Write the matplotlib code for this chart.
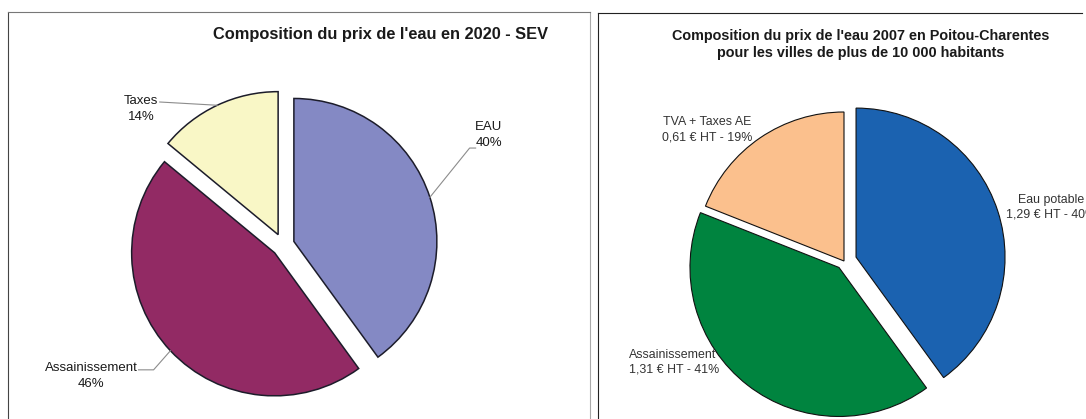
import numpy as np
import matplotlib.pyplot as plt

plt.rcParams['font.family'] = ['Liberation Sans', 'DejaVu Sans']

# left chart: SEV 2020
sev_labels = ['EAU', 'Assainissement', 'Taxes']
sev_pct = [40, 46, 14]
sev_colors = ['#8489c4', '#922a64', '#f9f7c6']

# right chart: Poitou-Charentes 2007
pc_labels = ['Eau potable', 'Assainissement', 'TVA + Taxes AE']
pc_euros = ['1,29', '1,31', '0,61']
pc_pct = [40, 41, 19]
pc_colors = ['#1b62b0', '#00843f', '#fbc08d']

W, H = 1086, 419
fig = plt.figure(figsize=(W / 100, H / 100), dpi=100)


def panel(x0, x1, y0, cx, cy, r):
    # axes in pixel box, data unit = pie radius, pie centre at (0, 0)
    ax = fig.add_axes([x0 / W, 0, (x1 - x0) / W, (H - y0) / H])
    lims = ((x0 - cx) / r, (x1 - cx) / r), ((cy - H) / r, (cy - y0) / r)
    return ax, lims


def finish(ax, lims):
    ax.set_frame_on(True)
    ax.set_xlim(*lims[0])
    ax.set_ylim(*lims[1])
    ax.set_aspect('auto')
    ax.set_xticks([])
    ax.set_yticks([])


def arc_point(w, frac=0.5):
    t = np.deg2rad(w.theta1 + frac * (w.theta2 - w.theta1))
    return w.center[0] + w.r * np.cos(t), w.center[1] + w.r * np.sin(t)


# ---------------- left ----------------
ax1, lim1 = panel(8, 590, 12, 283, 245, 143)
wedges1, _ = ax1.pie(sev_pct, colors=sev_colors, startangle=90, counterclock=False,
                     explode=[0.08, 0.08, 0.08],
                     wedgeprops=dict(edgecolor='#1c1c2a', linewidth=1.1))
finish(ax1, lim1)
ax1.spines['bottom'].set_visible(False)
ax1.spines['left'].set_color('#444444')
ax1.spines['top'].set_color('#777777')
ax1.spines['right'].set_color('#aaaaaa')

ax1.text(0.68, 1.475, "Composition du prix de l'eau en 2020 - SEV",
         ha='center', va='center', fontsize=11.8, fontweight='bold', color='#1a1a1a')

lab_pos1 = [(1.44, 0.77), (-1.34, -0.915), (-0.99, 0.95)]
elbows1 = [[(1.305, 0.678), (1.347, 0.678)],
           [(-0.905, -0.873), (-1.01, -0.873)],
           [(-0.862, 1.0)]]
for w, lab, p, pos, elb in zip(wedges1, sev_labels, sev_pct, lab_pos1, elbows1):
    ax1.text(pos[0], pos[1], f'{lab}\n{p}%', ha='center', va='center',
             fontsize=9.5, linespacing=1.45, color='#1a1a1a')
    pts = [arc_point(w)] + elb
    ax1.plot([q[0] for q in pts], [q[1] for q in pts], color='#8c8c8c', lw=0.8)

# ---------------- right ----------------
ax2, lim2 = panel(598, 1082, 13, 844, 261, 149)
wedges2, _ = ax2.pie(pc_pct, colors=pc_colors, startangle=90, counterclock=False,
                     explode=[0.085, 0.055, 0.0],
                     wedgeprops=dict(edgecolor='#111111', linewidth=0.8))
finish(ax2, lim2)
ax2.spines['bottom'].set_visible(False)
ax2.spines['right'].set_visible(False)
ax2.spines['left'].set_color('#222222')
ax2.spines['top'].set_color('#222222')

ax2.text(0.11, 1.455, "Composition du prix de l'eau 2007 en Poitou-Charentes\n"
         "pour les villes de plus de 10 000 habitants",
         ha='center', va='center', fontsize=10.4, fontweight='bold',
         linespacing=1.3, color='#1a1a1a')

lab_pos2 = [(1.39, 0.36, 'center'), (-1.443, -0.68, 'left'), (-0.92, 0.88, 'center')]
for lab, eur, p, pos in zip(pc_labels, pc_euros, pc_pct, lab_pos2):
    ax2.text(pos[0], pos[1], f'{lab}\n{eur} € HT - {p}%', ha=pos[2], va='center',
             fontsize=8.9, linespacing=1.35, color='#333333')

fig.savefig('out.png', dpi=100)
